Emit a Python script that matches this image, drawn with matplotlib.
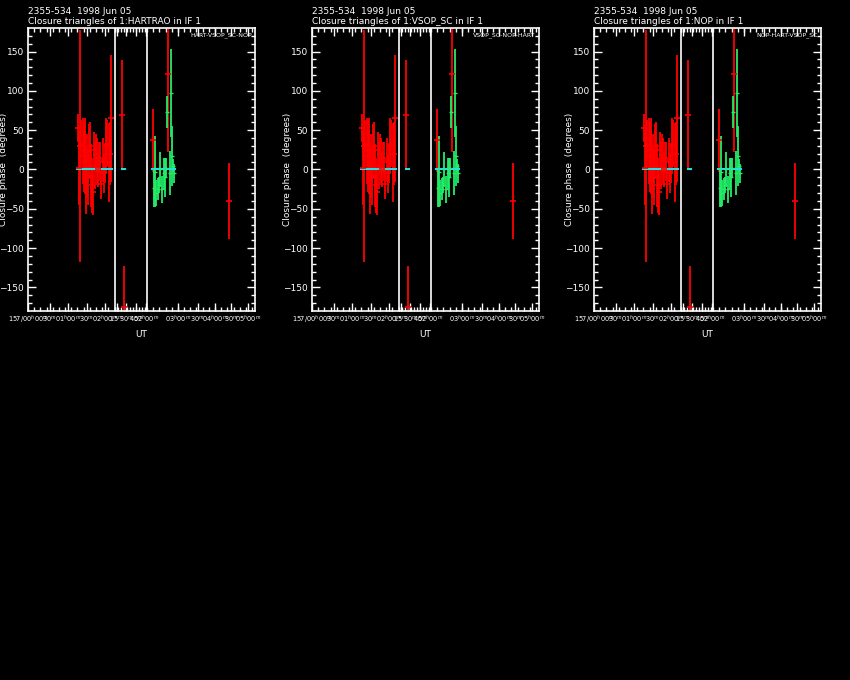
import matplotlib
matplotlib.use("Agg")
import matplotlib.pyplot as plt
import numpy as np

"""
DATA (x in plotted hours along the UT axis, phases in degrees)
"""
TITLE_TOP = "2355-534  1998 Jun 05"
STATIONS = ["HARTRAO", "VSOP_SC", "NOP"]
TRIANGLES = ["HART-VSOP_SC-NOP", "VSOP_SC-NOP-HART", "NOP-HART-VSOP_SC"]

red_x = [1.343, 1.386, 1.414, 1.441, 1.473, 1.500, 1.527, 1.554, 1.576, 1.603,
         1.630, 1.657, 1.684, 1.711, 1.738, 1.765, 1.792, 1.819, 1.846, 1.873,
         1.900, 1.927, 1.954, 1.981, 2.014, 2.041, 2.068, 2.108, 2.143, 2.189,
         2.222, 2.251, 2.549, 2.603, 3.365, 3.792, 5.441]
red_y = [53, 2, 30, 33, 23, 17, 25, 9, -15, 5,
         -10, 23, 30, -8, -20, -28, 25, 5, 20, 10,
         0, 15, 10, -18, 12, -5, 8, 30, 33, 9,
         20, 65, 69, -175, 37, 122, -40]
red_err = [18, 47, 148, 30, 42, 45, 40, 40, 42, 40,
           35, 35, 30, 40, 35, 30, 23, 30, 25, 30,
           22, 20, 25, 20, 28, 25, 25, 35, 30, 50,
           40, 81, 70, 52, 40, 100, 48]

green_x = [3.397, 3.441, 3.468, 3.505, 3.532, 3.576, 3.614, 3.676, 3.695, 3.722,
           3.765, 3.846, 3.873, 3.900, 3.919, 3.946]
green_y = [-24, -3, -30, -25, -20, 0, -25, -5, -10, 2,
           73, -5, 97, 17, 5, -5]
green_err = [24, 45, 17, 14, 10, 22, 17, 20, 25, 12,
             20, 28, 56, 38, 8, 12]

model_segments = [(1.33, 2.26), (2.54, 2.62), (3.36, 3.96)]
separators = [2.351, 3.216]

xtick_pos = [0.0, 0.59, 1.08, 1.59, 2.09, 2.40, 2.66, 2.92, 3.20, 4.05, 4.59, 5.05, 5.49, 5.95]
xtick_labels = [r"157/00$^h$00$^m$", r"30$^m$", r"01$^h$00$^m$", r"30$^m$",
                r"02$^h$00$^m$", r"15$^m$", r"30$^m$", r"45$^m$", r"02$^h$00$^m$",
                r"03$^h$00$^m$", r"30$^m$", r"04$^h$00$^m$", r"30$^m$", r"05$^h$00$^m$"]

WHITE = "white"
FS = 6.5

fig = plt.figure(figsize=(8.5, 6.8), dpi=100, facecolor="black")

lefts = [28, 312, 594]
for i, left in enumerate(lefts):
    ax = fig.add_axes([left / 850, 1 - 311 / 680, 227 / 850, 283 / 680])
    ax.set_facecolor("black")
    for sp in ax.spines.values():
        sp.set_color(WHITE)
        sp.set_linewidth(1.2)

    ax.errorbar(red_x, red_y, yerr=red_err, fmt="_", color="red", ecolor="red",
                elinewidth=1.3, markersize=5, mew=1.2, capsize=0)
    ax.errorbar(green_x, green_y, yerr=green_err, fmt="_", color="#22ee66", ecolor="#22ee66",
                elinewidth=1.3, markersize=3, mew=1.0, capsize=0)
    for a, b in model_segments:
        ax.plot([a, b], [0, 0], color="#22e0e0", lw=1.5)
    for s in separators:
        ax.axvline(s, color=WHITE, lw=1.2)

    ax.set_xlim(0, 6.135)
    ax.set_ylim(-180, 180)

    ax.set_yticks(np.arange(-150, 151, 50))
    ax.set_yticks(np.arange(-170, 171, 10), minor=True)
    ax.set_xticks(xtick_pos)
    ax.set_xticklabels(xtick_labels)
    minor = list(np.arange(0, 2.35, 0.167)) + list(np.arange(2.35, 3.216, 0.08)) + list(np.arange(3.216, 6.13, 0.167))
    ax.set_xticks(minor, minor=True)
    ax.tick_params(which="both", direction="in", colors=WHITE, top=True, right=True,
                   labelsize=FS, pad=3)
    ax.tick_params(which="major", length=6, width=1)
    ax.tick_params(which="minor", length=3, width=1)
    ax.tick_params(axis="x", labelsize=4.8, pad=2)

    ax.set_xlabel("UT", color=WHITE, fontsize=FS, labelpad=3)
    ax.set_ylabel("Closure phase  (degrees)", color=WHITE, fontsize=FS)
    ax.yaxis.set_label_coords(-0.09, 0.5)
    ax.text(0.985, 0.985, TRIANGLES[i], transform=ax.transAxes, ha="right", va="top",
            color=WHITE, fontsize=4.5)

    fig.text(left / 850, 1 - 12 / 680, TITLE_TOP, color=WHITE, fontsize=FS, va="center")
    fig.text(left / 850, 1 - 21 / 680, "Closure triangles of 1:" + STATIONS[i] + " in IF 1",
             color=WHITE, fontsize=FS, va="center")

fig.savefig("out.png", dpi=100, facecolor="black")
